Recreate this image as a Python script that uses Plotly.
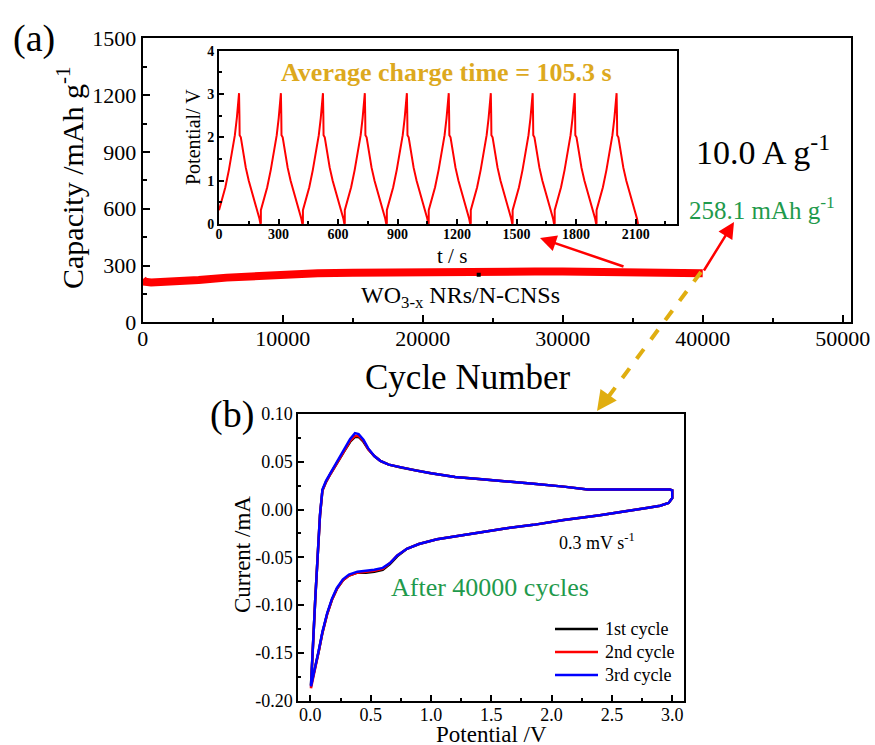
import plotly.graph_objects as go

# ---------------- data ----------------
# (a) long-term cycling capacity
cycle_number = [0, 150, 600, 1500, 2500, 4000, 6000, 8000, 10000, 12500, 15000, 17500,
                20000, 22500, 24000, 26000, 28000, 30000, 32500, 35000, 37500, 40000]
capacity = [228, 214, 210, 212, 216, 224, 236, 246, 255, 259, 262, 265,
            267, 268, 268, 269, 268, 268, 267, 266, 263, 259]
glitch_cycle = [24000, 24000]
glitch_capacity = [262, 240]

# inset: galvanostatic charge/discharge profile (one cycle)
gcd_cycle_start = [0, 211, 423, 634, 846, 1057, 1269, 1480, 1692, 1903]
gcd_profile_t = [0, 0, 15, 32, 50, 65, 80, 90, 97, 101, 103, 104, 110, 120, 135, 150, 165, 180, 195, 204, 209]
gcd_profile_v = [0.02, 0.32, 0.55, 0.85, 1.25, 1.65, 2.05, 2.45, 2.8, 3.02, 2.5, 2.05, 2.0, 1.72, 1.3, 1.0, 0.76, 0.54, 0.3, 0.12, 0.0]

# (b) cyclic voltammetry after 40000 cycles
cv_potential = [0.005, 0.02, 0.04, 0.06, 0.08, 0.1, 0.13, 0.17, 0.22, 0.28, 0.33, 0.37, 0.40, 0.44,
                0.48, 0.53, 0.58, 0.65, 0.75, 0.87, 1.0, 1.2, 1.4, 1.6, 1.85, 2.1, 2.3, 2.45, 2.6,
                2.75, 2.9, 2.98, 3.0,
                3.0, 2.97, 2.9, 2.8, 2.65, 2.4, 2.1, 1.85, 1.6, 1.3, 1.05, 0.9, 0.8, 0.72, 0.66,
                0.6, 0.53, 0.46, 0.39, 0.32, 0.27, 0.22, 0.18, 0.14, 0.1, 0.07, 0.04, 0.02, 0.005]
cv_cycle1 = [-0.184, -0.14, -0.095, -0.05, -0.006, 0.020, 0.029, 0.038, 0.049, 0.061, 0.071, 0.076,
             0.076, 0.071, 0.063, 0.056, 0.051, 0.047, 0.044, 0.041, 0.038, 0.034, 0.032, 0.030,
             0.027, 0.024, 0.021, 0.021, 0.021, 0.021, 0.021, 0.021, 0.020,
             0.012, 0.007, 0.004, 0.002, -0.001, -0.006, -0.011, -0.016, -0.020, -0.026, -0.031,
             -0.036, -0.041, -0.049, -0.057, -0.063, -0.065, -0.066, -0.066, -0.069, -0.074,
             -0.083, -0.094, -0.109, -0.129, -0.148, -0.166, -0.178, -0.184]
cv_cycle2 = [-0.187, -0.14, -0.095, -0.05, -0.006, 0.020, 0.029, 0.038, 0.049, 0.062, 0.072, 0.077,
             0.077, 0.072, 0.063, 0.056, 0.051, 0.047, 0.044, 0.041, 0.038, 0.034, 0.032, 0.030,
             0.027, 0.024, 0.021, 0.021, 0.021, 0.021, 0.021, 0.021, 0.020,
             0.012, 0.007, 0.004, 0.002, -0.001, -0.006, -0.011, -0.016, -0.020, -0.026, -0.031,
             -0.036, -0.041, -0.048, -0.056, -0.062, -0.064, -0.065, -0.066, -0.069, -0.074,
             -0.083, -0.094, -0.109, -0.129, -0.148, -0.166, -0.178, -0.187]
cv_cycle3 = [-0.185, -0.14, -0.095, -0.05, -0.005, 0.021, 0.030, 0.039, 0.050, 0.063, 0.074, 0.080,
             0.079, 0.073, 0.064, 0.056, 0.051, 0.047, 0.044, 0.041, 0.038, 0.034, 0.032, 0.030,
             0.027, 0.024, 0.021, 0.021, 0.021, 0.021, 0.021, 0.021, 0.020,
             0.012, 0.007, 0.004, 0.002, -0.001, -0.006, -0.011, -0.016, -0.020, -0.026, -0.031,
             -0.036, -0.041, -0.048, -0.056, -0.061, -0.063, -0.064, -0.065, -0.068, -0.073,
             -0.082, -0.093, -0.108, -0.128, -0.147, -0.165, -0.177, -0.185]
cv_names = ["1st cycle", "2nd cycle", "3rd cycle"]
cv_colors = ["#000000", "#FF0000", "#0000FF"]

yb_tickvals = [-0.20, -0.15, -0.10, -0.05, 0.00, 0.05, 0.10]
yb_ticktext = ["-0.20", "-0.15", "-0.10", "-0.05", "0.00", "0.05", "0.10"]

# ---------------- layout helpers ----------------
W, H = 875, 745
FONT = "Liberation Serif"
GOLD = "#DDA91E"
GREEN = "#1F9A4C"


def px(x):
    return x / W


def py(y):
    return 1 - y / H


# build inset series from per-cycle profile
gcd_t, gcd_v = [], []
for i, t0 in enumerate(gcd_cycle_start):
    for j, (tt, vv) in enumerate(zip(gcd_profile_t, gcd_profile_v)):
        if i == 0 and j == 0:
            continue
        gcd_t.append(t0 + tt)
        gcd_v.append(vv)

fig = go.Figure()

fig.add_trace(go.Scatter(x=cycle_number, y=capacity, mode="lines",
                         line=dict(color="#FF0000", width=8), xaxis="x", yaxis="y",
                         showlegend=False))
fig.add_trace(go.Scatter(x=glitch_cycle, y=glitch_capacity, mode="lines",
                         line=dict(color="#000000", width=4), xaxis="x", yaxis="y",
                         showlegend=False))
fig.add_trace(go.Scatter(x=gcd_t, y=gcd_v, mode="lines",
                         line=dict(color="#FF0000", width=2), xaxis="x2", yaxis="y2",
                         showlegend=False))
for name, cur, col in zip(cv_names, [cv_cycle1, cv_cycle2, cv_cycle3], cv_colors):
    fig.add_trace(go.Scatter(x=cv_potential, y=cur, mode="lines", name=name,
                             line=dict(color=col, width=2.5), xaxis="x3", yaxis="y3",
                             showlegend=False))

axis_common = dict(showline=True, linecolor="black", linewidth=2, mirror=True,
                   ticks="inside", tickcolor="black", tickwidth=2, showgrid=False,
                   zeroline=False, automargin=False)

fig.update_layout(
    template="none",
    width=W, height=H, margin=dict(l=0, r=0, t=0, b=0),
    paper_bgcolor="white", plot_bgcolor="rgba(0,0,0,0)",
    font=dict(family=FONT, color="black"),
    showlegend=False,
    xaxis=dict(domain=[px(142.7), px(850.7)], range=[0, 50570], anchor="y",
               dtick=10000, tickformat="d", ticklen=7, ticklabelstandoff=-5,
               minor=dict(ticks="inside", dtick=5000, ticklen=4, tickwidth=2, tickcolor="black"),
               tickfont=dict(size=22, family=FONT), **axis_common),
    yaxis=dict(domain=[py(322.3), py(38.3)], range=[0, 1500], anchor="x",
               dtick=300, ticklen=7,
               minor=dict(ticks="inside", dtick=150, ticklen=4, tickwidth=2, tickcolor="black"),
               tickfont=dict(size=22, family=FONT), **axis_common),
    xaxis2=dict(domain=[px(219), px(677.3)], range=[0, 2310], anchor="y2",
                dtick=300, ticklen=5, ticklabelstandoff=-4,
                minor=dict(ticks="inside", dtick=150, ticklen=3, tickwidth=2, tickcolor="black"),
                tickfont=dict(size=14, family=FONT, weight="bold"), **axis_common),
    yaxis2=dict(domain=[py(224), py(50.7)], range=[0, 4], anchor="x2",
                dtick=1, ticklen=5,
                minor=dict(ticks="inside", dtick=0.5, ticklen=3, tickwidth=2, tickcolor="black"),
                tickfont=dict(size=14, family=FONT, weight="bold"), **axis_common),
    xaxis3=dict(domain=[px(298.3), px(684.3)], range=[-0.1, 3.1], anchor="y3",
                dtick=0.5, tick0=0, tickformat=".1f", ticklen=6, ticklabelstandoff=-3,
                minor=dict(ticks="inside", dtick=0.25, tick0=0, ticklen=3, tickwidth=1.5, tickcolor="black"),
                tickfont=dict(size=18, family=FONT), **axis_common),
    yaxis3=dict(domain=[py(700.7), py(414)], range=[-0.2, 0.1], anchor="x3",
                tickvals=yb_tickvals, ticktext=yb_ticktext, ticklen=6,
                minor=dict(ticks="inside", dtick=0.025, tick0=0, ticklen=3, tickwidth=1.5, tickcolor="black"),
                tickfont=dict(size=18, family=FONT), **axis_common),
)

ann = []


def text(x, y, s, size, color="black", angle=0, weight="normal", xanchor="center"):
    ann.append(dict(x=px(x), y=py(y), xref="paper", yref="paper", text=s, showarrow=False,
                    xanchor=xanchor, yanchor="middle", textangle=angle,
                    font=dict(family=FONT, size=size, color=color, weight=weight)))


# panel labels and titles
text(34, 39, "(a)", 38)
text(232, 414, "(b)", 38)
text(467, 377, "Cycle Number", 35)
text(70, 178, "Capacity /mAh g<sup>-1</sup>", 30, angle=-90)
text(452, 256, "t / s", 21)
text(193, 137, "Potential/ V", 20, angle=-90)
text(446.5, 72, "Average charge time = 105.3 s", 26, color=GOLD, weight="bold")
text(763, 150, "10.0 A g<sup>-1</sup>", 34)
text(762, 208, "258.1 mAh g<sup>-1</sup>", 25, color=GREEN)
text(460, 297, "WO<sub>3-x</sub> NRs/N-CNSs", 24)
text(242, 555, "Current /mA", 23, angle=-90)
text(491, 734, "Potential /V", 23)
text(597, 541, "0.3 mV s<sup>-1</sup>", 18)
text(490, 587, "After 40000 cycles", 26, color=GREEN)

# legend (panel b)
legend_y = [629, 652, 675]
shapes = []
for name, col, ly in zip(cv_names, cv_colors, legend_y):
    shapes.append(dict(type="line", xref="paper", yref="paper", x0=px(555), x1=px(598),
                       y0=py(ly), y1=py(ly), line=dict(color=col, width=2.5)))
    text(603, ly, name, 18, xanchor="left")

# red arrows
ann.append(dict(x=px(540), y=py(238), xref="paper", yref="paper", ax=85, ay=29,
                axref="pixel", ayref="pixel", text="", showarrow=True, arrowhead=2,
                arrowsize=1.3, arrowwidth=2.5, arrowcolor="#FF0000", standoff=0, startstandoff=0))
ann.append(dict(x=px(734), y=py(222), xref="paper", yref="paper", ax=-31, ay=50,
                axref="pixel", ayref="pixel", text="", showarrow=True, arrowhead=2,
                arrowsize=1.3, arrowwidth=2.5, arrowcolor="#FF0000", standoff=0, startstandoff=0))

# golden dashed arrow
shapes.append(dict(type="line", xref="paper", yref="paper", x0=px(701), y0=py(272),
                   x1=px(606), y1=py(400), line=dict(color="#E0AE10", width=4, dash="dash")))
ann.append(dict(x=px(597), y=py(411), xref="paper", yref="paper", ax=10, ay=-14,
                axref="pixel", ayref="pixel", text="", showarrow=True, arrowhead=2,
                arrowsize=1.0, arrowwidth=4, arrowcolor="#E0AE10", standoff=0, startstandoff=0))

fig.update_layout(annotations=ann, shapes=shapes)
fig.write_html("out.html")
